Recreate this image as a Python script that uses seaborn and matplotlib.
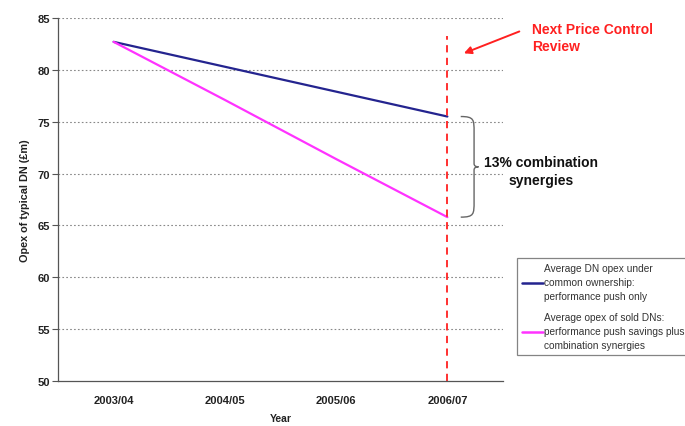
import numpy as np
import pandas as pd
import matplotlib
matplotlib.use("Agg")
import matplotlib.pyplot as plt
from matplotlib.path import Path
from matplotlib.patches import PathPatch
import seaborn as sns

years = ["2003/04", "2004/05", "2005/06", "2006/07"]
common_ownership = [82.7, 80.3, 77.9, 75.5]
sold_dns = [82.7, 77.1, 71.4, 65.8]
series_labels = [
    "Average DN opex under\ncommon ownership:\nperformance push only",
    "Average opex of sold DNs:\nperformance push savings plus\ncombination synergies",
]
series_colors = ["#24248f", "#ff33ff"]
y_ticks = [50, 55, 60, 65, 70, 75, 80, 85]

sns.set_theme(style="white")
plt.rcParams["font.family"] = ["Liberation Sans", "DejaVu Sans"]

df = pd.DataFrame({
    "Year": years * 2,
    "Opex": common_ownership + sold_dns,
    "Series": [series_labels[0]] * 4 + [series_labels[1]] * 4,
})

fig = plt.figure(figsize=(6.85, 4.27), dpi=100)
ax = fig.add_axes([58 / 685, 1 - 382 / 427, 445 / 685, 363 / 427])

sns.lineplot(data=df, x="Year", y="Opex", hue="Series", palette=series_colors,
             linewidth=1.6, ax=ax, legend=False, sort=False)

ax.set_xlim(-0.5, 3.5)
ax.set_ylim(50, 85)
ax.set_yticks(y_ticks)
ax.set_yticklabels([str(v) for v in y_ticks], fontsize=8, fontweight="bold", color="#222222")
ax.set_xticks(range(len(years)))
ax.set_xticklabels(years, fontsize=8, fontweight="bold", color="#222222")
ax.set_xticks(np.arange(-0.5, 4, 1), minor=True)
ax.tick_params(axis="x", which="major", length=0, pad=10)
ax.tick_params(axis="x", which="minor", length=4, width=0.8, color="#555555", direction="out")
ax.tick_params(axis="y", which="major", length=4, width=0.8, color="#555555", direction="out", left=True, pad=2)

for v in y_ticks[1:]:
    ax.axhline(v, color="#888888", linestyle=(0, (1.5, 2)), linewidth=0.8, zorder=0)

for side in ["top", "right"]:
    ax.spines[side].set_visible(False)
for side in ["left", "bottom"]:
    ax.spines[side].set_color("#555555")
    ax.spines[side].set_linewidth(0.9)

ax.set_xlabel("Year", fontsize=7.5, fontweight="bold", color="#222222", labelpad=6)
ax.set_ylabel("Opex of typical DN (£m)", fontsize=7.8, fontweight="bold", color="#222222", labelpad=5)

# Next price control review marker
ax.axvline(3, ymin=0, ymax=(83.3 - 50) / 35, color="#ff2020", linestyle=(0, (4, 3)), linewidth=1.3)
ax.annotate("", xy=(3.125, 81.5), xytext=(3.67, 83.8),
            arrowprops=dict(arrowstyle="-|>", color="#ff2020", lw=1.4, mutation_scale=11),
            annotation_clip=False)
ax.text(3.76, 84.6, "Next Price Control\nReview", color="#ff2020", fontsize=10,
        fontweight="bold", va="top", ha="left", linespacing=1.3)

# Brace spanning the gap between the two series in 2006/07
x0, xm, xt = 3.12, 3.24, 3.28
top, bot = common_ownership[-1], sold_dns[-1]
mid = (top + bot) / 2
verts = [
    (x0, top), (xm, top), (xm, top - 0.3), (xm, top - 1.5),
    (xm, mid + 0.3), (xm, mid), (xt, mid),
    (xm, mid), (xm, mid - 0.3), (xm, bot + 1.5),
    (xm, bot + 0.3), (xm, bot), (x0, bot),
]
codes = [Path.MOVETO, Path.CURVE4, Path.CURVE4, Path.CURVE4,
         Path.LINETO, Path.CURVE3, Path.CURVE3,
         Path.CURVE3, Path.CURVE3, Path.LINETO,
         Path.CURVE4, Path.CURVE4, Path.CURVE4]
brace = PathPatch(Path(verts, codes), facecolor="none", edgecolor="#666666", lw=1.0, clip_on=False)
ax.add_patch(brace)
ax.text(3.33, mid - 0.4, "13% combination\nsynergies", fontsize=10, fontweight="bold",
        color="#111111", ha="left", va="center", multialignment="center", linespacing=1.4)

handles = [plt.Line2D([], [], color=c, lw=1.8) for c in series_colors]
leg = fig.legend(handles, series_labels, loc="upper left",
                 bbox_to_anchor=(517 / 685, 1 - 259 / 427), fontsize=7.3,
                 frameon=True, fancybox=False, handlelength=2.1, handletextpad=0.05,
                 borderpad=0.5, borderaxespad=0, labelspacing=1.1, labelcolor="#333333")
for t in leg.get_texts():
    t.set_linespacing(1.5)
leg.get_frame().set_edgecolor("#666666")
leg.get_frame().set_linewidth(0.9)

fig.savefig("out.png", dpi=100)
